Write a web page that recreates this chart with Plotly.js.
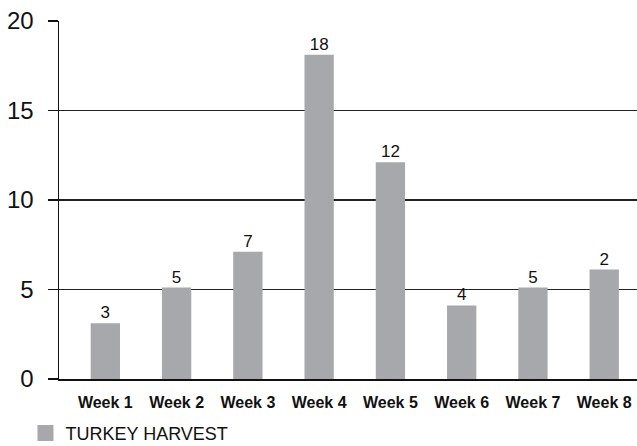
<!DOCTYPE html>
<html>
<head>
<meta charset="utf-8">
<script src="https://cdn.plot.ly/plotly-3.0.1.min.js"></script>
<style>html,body{margin:0;padding:0;background:#fff}#chart{width:637px;height:446px}</style>
</head>
<body>
<div id="chart"></div>
<script>
const weeks = ["Week 1","Week 2","Week 3","Week 4","Week 5","Week 6","Week 7","Week 8"];
const harvest = [3, 5, 7, 18, 12, 4, 5, 6];
const valueLabels = ["3","5","7","18","12","4","5","2"];
const yTicks = [0, 5, 10, 15, 20];
const seriesName = "TURKEY HARVEST";

const font = "Liberation Sans, Arial, Helvetica, sans-serif";
const barGray = "#a7a8ab";

const trace = {
  type: "bar",
  x: weeks,
  y: harvest,
  name: seriesName,
  text: valueLabels,
  textposition: "outside",
  cliponaxis: false,
  textfont: {family: font, size: 17, color: "#111"},
  marker: {color: barGray, line: {color: barGray, width: 4}},
  width: 0.355,
  hoverinfo: "none",
  showlegend: true
};

const layout = {
  width: 637, height: 446,
  margin: {l: 59, r: 0, t: 21, b: 67, autoexpand: false},
  paper_bgcolor: "#fff", plot_bgcolor: "#fff",
  font: {family: font, color: "#111"},
  showlegend: true,
  legend: {orientation: "h", x: -0.058, xanchor: "left", y: -0.1, yanchor: "top",
           font: {family: font, size: 18, color: "#111"}, bgcolor: "rgba(0,0,0,0)"},
  xaxis: {
    type: "category", range: [-0.65, 7.46],
    showline: true, linecolor: "#111", linewidth: 1.5,
    ticks: "", showgrid: false, zeroline: false,
    tickfont: {family: font, size: 16, color: "#111", weight: "bold"},
    ticklabelstandoff: 8,
    fixedrange: true
  },
  yaxis: {
    range: [0, 20], tickvals: yTicks, ticktext: yTicks.map(String),
    showline: true, linecolor: "#111", linewidth: 1.5,
    ticks: "outside", ticklen: 10, tickcolor: "#111", tickwidth: 1.5,
    showgrid: true, gridcolor: "#222", gridwidth: 1.3, zeroline: false,
    tickfont: {family: font, size: 24, color: "#111"},
    ticklabelstandoff: 9,
    fixedrange: true
  }
};

Plotly.newPlot("chart", [trace], layout, {staticPlot: true, displayModeBar: false});
</script>
</body>
</html>
